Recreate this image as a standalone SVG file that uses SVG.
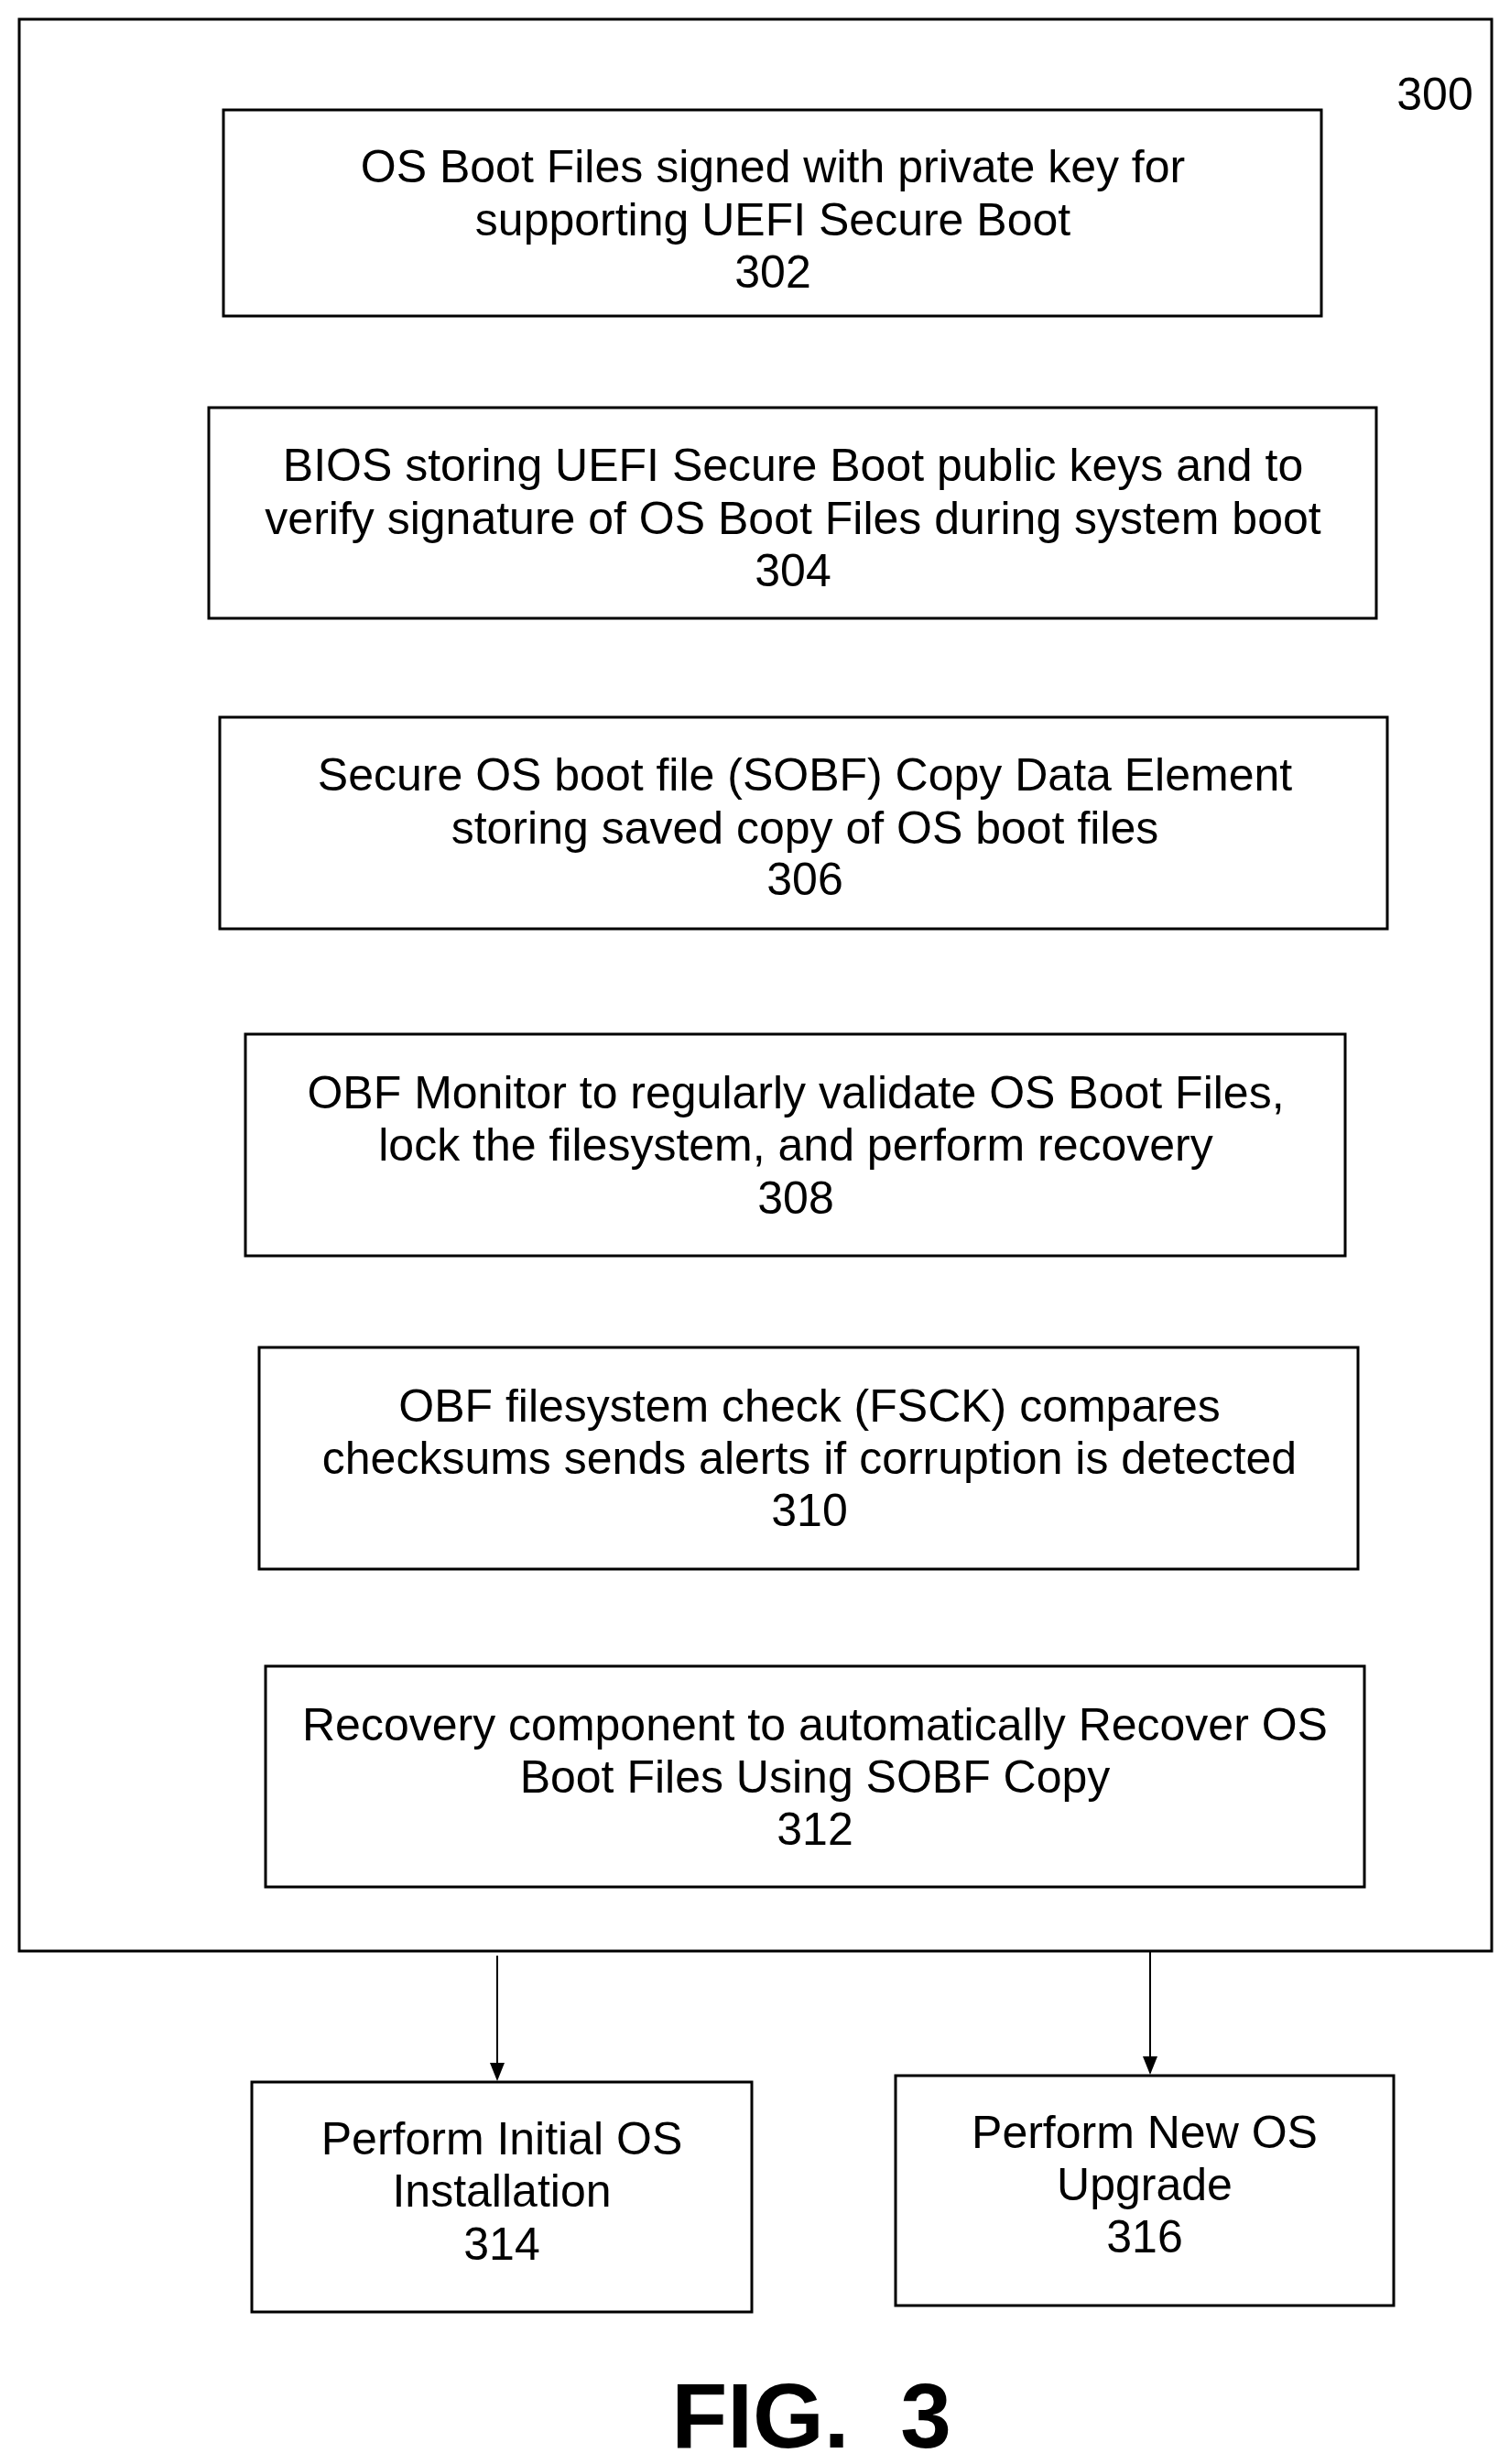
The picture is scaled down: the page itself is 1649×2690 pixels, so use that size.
<svg xmlns="http://www.w3.org/2000/svg" width="1649" height="2690" viewBox="0 0 1649 2690">
<style>
rect{fill:#fff;stroke:#000;stroke-width:3}
text{font-family:"Liberation Sans",Arial,sans-serif;font-size:50px;text-anchor:middle;dominant-baseline:central;fill:#000}
line{stroke:#000;stroke-width:2}
</style>
<defs><marker id="ah" markerWidth="20" markerHeight="20" refX="18" refY="10" orient="auto" markerUnits="userSpaceOnUse" viewBox="0 0 20 20"><path d="M0,2L20,10L0,18z" fill="#000"/></marker></defs>
<rect x="21" y="21" width="1608" height="2109" style="fill:none"/>
<text x="1567" y="103">300</text>
<g id="n302"><rect x="244" y="120" width="1199" height="225"/><text x="844" y="182">OS Boot Files signed with private key for</text><text x="844" y="240">supporting UEFI Secure Boot</text><text x="844" y="297">302</text></g>
<g id="n304"><rect x="228" y="445" width="1275" height="230"/><text x="866" y="508">BIOS storing UEFI Secure Boot public keys and to</text><text x="866" y="566">verify signature of OS Boot Files during system boot</text><text x="866" y="623">304</text></g>
<g id="n306"><rect x="240" y="783" width="1275" height="231"/><text x="879" y="846">Secure OS boot file (SOBF) Copy Data Element</text><text x="879" y="904">storing saved copy of OS boot files</text><text x="879" y="960">306</text></g>
<g id="n308"><rect x="268" y="1129" width="1201" height="242"/><text x="869" y="1193">OBF Monitor to regularly validate OS Boot Files,</text><text x="869" y="1250">lock the filesystem, and perform recovery</text><text x="869" y="1308">308</text></g>
<g id="n310"><rect x="283" y="1471" width="1200" height="242"/><text x="884" y="1535">OBF filesystem check (FSCK) compares</text><text x="884" y="1592">checksums sends alerts if corruption is detected</text><text x="884" y="1649">310</text></g>
<g id="n312"><rect x="290" y="1819" width="1200" height="241"/><text x="890" y="1883">Recovery component to automatically Recover OS</text><text x="890" y="1940">Boot Files Using SOBF Copy</text><text x="890" y="1997">312</text></g>
<g id="n314"><rect x="275" y="2273" width="546" height="251"/><text x="548" y="2335">Perform Initial OS</text><text x="548" y="2392">Installation</text><text x="548" y="2450">314</text></g>
<g id="n316"><rect x="978" y="2266" width="544" height="251"/><text x="1250" y="2328">Perform New OS</text><text x="1250" y="2385">Upgrade</text><text x="1250" y="2442">316</text></g>
<g id="connectors"><line x1="543" y1="2135" x2="543" y2="2270" marker-end="url(#ah)"/><line x1="1256" y1="2130" x2="1256" y2="2263" marker-end="url(#ah)"/></g>
<text x="886" y="2637" xml:space="preserve" style="font-size:100px;font-weight:bold;white-space:pre">FIG.  3</text>
</svg>
